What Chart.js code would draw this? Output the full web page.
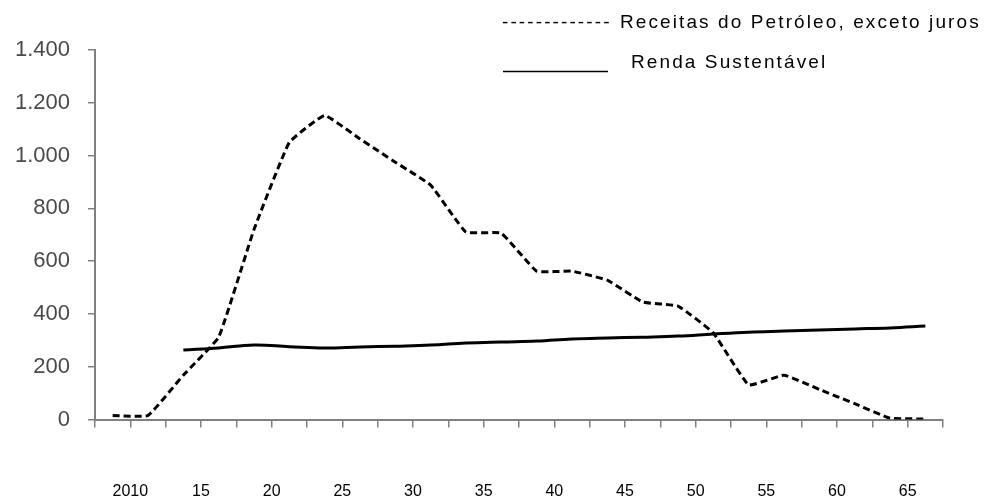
<!DOCTYPE html>
<html>
<head>
<meta charset="utf-8">
<script src="https://cdn.jsdelivr.net/npm/chart.js@4.4.1/dist/chart.umd.min.js"></script>
<style>
  html, body { margin: 0; padding: 0; background: #fff; }
</style>
</head>
<body>
<canvas id="chart" width="997" height="501"></canvas>
<script>
// x position of each data point (year, half-step periods)
const periods = [
  2008.75, 2011.25, 2013.75, 2016.25, 2018.75, 2021.25, 2023.75, 2026.25,
  2028.75, 2031.25, 2033.75, 2036.25, 2038.75, 2041.25, 2043.75, 2046.25,
  2048.75, 2051.25, 2053.75, 2056.25, 2058.75, 2061.25, 2063.75, 2066.25,
];
const oilRevenue = [
  15, 15, 168, 312, 720, 1050, 1152, 1063, 975, 888, 710, 706,
  562, 562, 528, 445, 430, 328, 131, 168, 114, 60, 5, 2,
];
const sustainableIncome = [
  null, null, 263, 271, 282, 276, 271, 275, 278, 282, 290, 294,
  297, 305, 309, 312, 316, 324, 331, 335, 339, 343, 347, 354,
];
const yearTicks = [2010, 2015, 2020, 2025, 2030, 2035, 2040, 2045, 2050, 2055, 2060, 2065];
const yearTickLabels = ["2010", "15", "20", "25", "30", "35", "40", "45", "50", "55", "60", "65"];
const seriesNames = ["Receitas do Petróleo, exceto juros", "Renda Sustentável"];

const axisGray = "#808080";

function thousands(v) {
  return String(v).replace(/\B(?=(\d{3})+(?!\d))/g, ".");
}

const manualLegend = {
  id: "manualLegend",
  afterDraw(chart) {
    const ctx = chart.ctx;
    ctx.save();
    ctx.fillStyle = "#000";
    ctx.font = "19px 'Liberation Sans', Arial, sans-serif";
    ctx.letterSpacing = "2.1px";
    ctx.textBaseline = "alphabetic";
    ctx.fillText("-------------", 502, 28);
    ctx.fillText(seriesNames[0], 620, 28);
    ctx.fillText(seriesNames[1], 631, 68);
    ctx.strokeStyle = "#000";
    ctx.lineWidth = 1.5;
    ctx.beginPath();
    ctx.moveTo(503, 71.5);
    ctx.lineTo(608, 71.5);
    ctx.stroke();
    ctx.restore();
  },
};

new Chart(document.getElementById("chart"), {
  type: "line",
  data: {
    labels: periods,
    datasets: [
      {
        label: seriesNames[0],
        data: oilRevenue,
        borderColor: "#000",
        borderWidth: 3,
        borderDash: [7, 4],
        pointRadius: 0,
        tension: 0.1,
        fill: false,
      },
      {
        label: seriesNames[1],
        data: sustainableIncome,
        borderColor: "#000",
        borderWidth: 3,
        pointRadius: 0,
        tension: 0.4,
        spanGaps: false,
        fill: false,
      },
    ],
  },
  options: {
    responsive: false,
    animation: false,
    layout: { padding: { top: 50, right: 52, left: 0, bottom: 0 } },
    plugins: {
      legend: { display: false },
      tooltip: { enabled: false },
    },
    scales: {
      x: {
        type: "linear",
        min: 2007.5,
        max: 2067.5,
        grid: { drawOnChartArea: false, tickLength: 8, color: axisGray, lineWidth: 1.5 },
        border: { color: axisGray, width: 2 },
        ticks: {
          stepSize: 2.5,
          autoSkip: false,
          maxRotation: 0,
          padding: 54,
          color: "#000",
          font: { family: "'Liberation Sans', Arial, sans-serif", size: 16 },
          callback: (v) => {
            const i = yearTicks.indexOf(v);
            return i >= 0 ? yearTickLabels[i] : "";
          },
        },
        afterFit: (s) => { s.height = 81.5; },
      },
      y: {
        min: 0,
        max: 1400,
        grid: { drawOnChartArea: false, tickLength: 7, color: axisGray, lineWidth: 1.5 },
        border: { color: axisGray, width: 2 },
        ticks: {
          stepSize: 200,
          padding: 18,
          color: "#4a4a4a",
          font: { family: "'Liberation Sans', Arial, sans-serif", size: 22 },
          callback: (v) => thousands(v),
        },
        afterFit: (s) => { s.width = 95; },
      },
    },
  },
  plugins: [manualLegend],
});
</script>
</body>
</html>
